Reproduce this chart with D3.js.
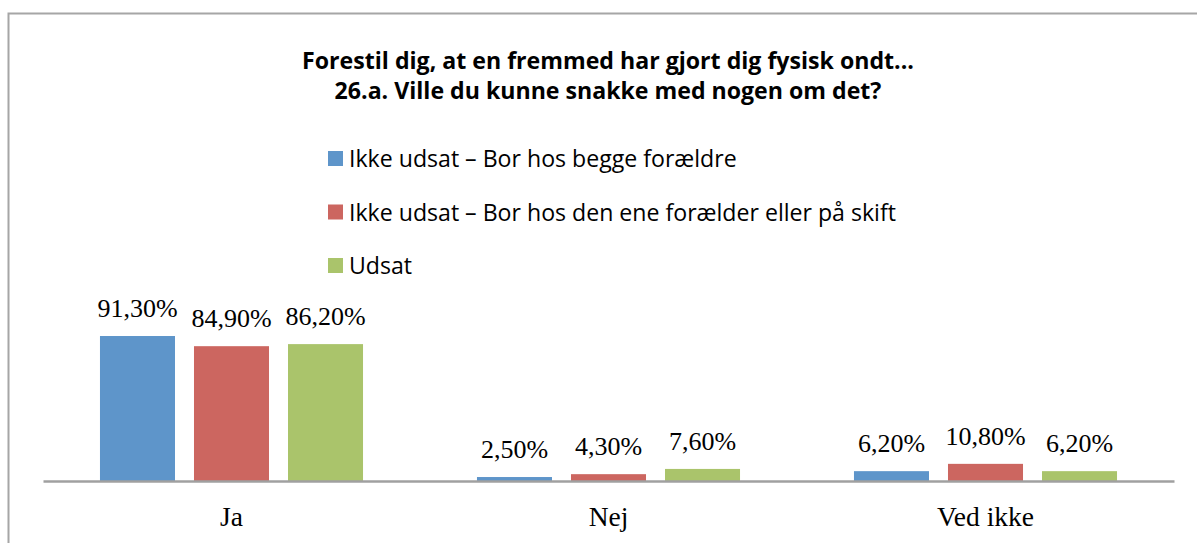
<!doctype html>
<html>
<head>
<meta charset="UTF-8">
<title>26.a. Ville du kunne snakke med nogen om det?</title>
<script src="https://d3js.org/d3.v7.min.js"></script>
<style>
  body { margin: 0; background: #fff; }
  .title { font-family: "Open Sans", Lato, sans-serif; font-weight: bold; font-size: 22px; fill: #000; }
  .legend text { font-family: "Open Sans", Lato, sans-serif; font-size: 21px; fill: #000; }
  .val { font-family: "Liberation Serif", serif; font-size: 26px; fill: #000; }
</style>
</head>
<body>
<script>
// data
var categories = ["Ja", "Nej", "Ved ikke"];
var seriesNames = [
  "Ikke udsat \u2013 Bor hos begge forældre",
  "Ikke udsat \u2013 Bor hos den ene forælder eller på skift",
  "Udsat"
];
var bothParents = [91.3, 2.5, 6.2];
var oneParent = [84.9, 4.3, 10.8];
var exposed = [86.2, 7.6, 6.2];
var seriesValues = [bothParents, oneParent, exposed];
var colors = ["#5E95CA", "#CC6660", "#AAC46B"];
var titleLines = [
  "Forestil dig, at en fremmed har gjort dig fysisk ondt...",
  "26.a. Ville du kunne snakke med nogen om det?"
];

var W = 1197, H = 543;
var svg = d3.select("body").append("svg")
  .attr("width", W).attr("height", H);

// chart frame (runs off the right and bottom edges)
svg.append("rect")
  .attr("x", 8.5).attr("y", 13.5)
  .attr("width", 1400).attr("height", 700)
  .attr("fill", "none").attr("stroke", "#a6a6a6").attr("stroke-width", 2);

// title
var title = svg.selectAll(".title").data(titleLines).enter().append("text")
  .attr("class", "title")
  .attr("text-anchor", "middle")
  .attr("x", 608)
  .attr("y", function(d, i) { return 69 + i * 29.5; })
  .text(function(d) { return d; });
// match the original line width (first line ~614px wide)
var tw = title.node().getComputedTextLength();
title.style("font-size", (22 * 612 / tw) + "px");

// legend
var legend = svg.append("g").attr("class", "legend");
var lg = legend.selectAll("g").data(seriesNames).enter().append("g")
  .attr("transform", function(d, i) { return "translate(328," + (151 + i * 53.5) + ")"; });
lg.append("rect").attr("width", 15).attr("height", 15)
  .attr("fill", function(d, i) { return colors[i]; });
var lt = lg.append("text").attr("x", 21).attr("y", 16).text(function(d) { return d; });
var lw = lt.node().getComputedTextLength();
lt.style("font-size", (21 * 388 / lw) + "px");

// scales
var baseY = 481;
var x = d3.scaleBand().domain(categories).range([43, 1174]);
var xs = d3.scaleBand().domain(d3.range(seriesValues.length))
  .range([0, x.bandwidth()]).paddingInner(0.202).paddingOuter(0.606);
var y = d3.scaleLinear().domain([0, 100]).range([baseY, baseY - 158.8]);

var rows = [];
categories.forEach(function(c, ci) {
  seriesValues.forEach(function(s, si) {
    rows.push({ cat: c, s: si, v: s[ci] });
  });
});

// bars
svg.selectAll(".bar").data(rows).enter().append("rect")
  .attr("class", "bar")
  .attr("x", function(d) { return x(d.cat) + xs(d.s); })
  .attr("y", function(d) { return y(d.v); })
  .attr("width", xs.bandwidth())
  .attr("height", function(d) { return baseY - y(d.v); })
  .attr("fill", function(d) { return colors[d.s]; });

// value labels
svg.selectAll(".val").data(rows).enter().append("text")
  .attr("class", "val")
  .attr("text-anchor", "middle")
  .attr("x", function(d) { return x(d.cat) + xs(d.s) + xs.bandwidth() / 2; })
  .attr("y", function(d) { return y(d.v) - 19; })
  .text(function(d) { return d.v.toFixed(2).replace(".", ",") + "%"; });

// category axis
var xAxis = d3.axisBottom(x).tickSize(0).tickPadding(0);
var ax = svg.append("g")
  .attr("transform", "translate(0," + baseY + ")")
  .call(xAxis);
ax.select(".domain").attr("stroke", "#a0a0a0").attr("stroke-width", 2.5);
ax.selectAll(".tick text")
  .attr("dy", null)
  .attr("y", 45)
  .style("font-family", "'Liberation Serif', serif")
  .style("font-size", "27.5px")
  .attr("fill", "#000");
</script>
</body>
</html>
